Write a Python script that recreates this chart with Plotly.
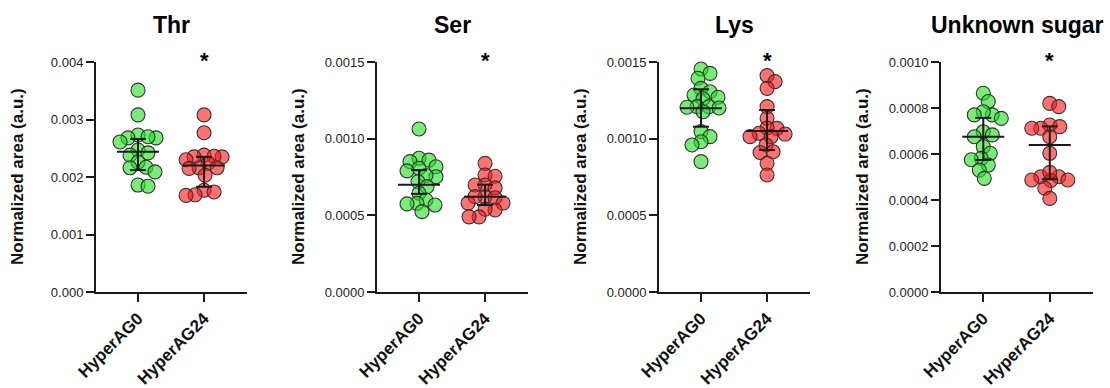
import numpy as np
import plotly.graph_objects as go

# ---------------- data ----------------
panels = ["Thr", "Ser", "Lys", "Unknown sugar"]
groups = ["HyperAG0", "HyperAG24"]

thr_ag0 = [0.00351, 0.00308, 0.00273, 0.00268, 0.00268, 0.00270, 0.00261, 0.00247,
           0.00242, 0.00238, 0.00226, 0.00217, 0.00216, 0.00209, 0.00186, 0.00184]
thr_ag24 = [0.00308, 0.00277, 0.00238, 0.00235, 0.00235, 0.00230, 0.00236, 0.00224,
            0.00216, 0.00216, 0.00215, 0.00203, 0.00177, 0.00174, 0.00169, 0.00168]
ser_ag0 = [0.001063, 0.000872, 0.000860, 0.000850, 0.000807, 0.000817, 0.000790, 0.000752,
           0.000760, 0.000720, 0.000687, 0.000644, 0.000600, 0.000578, 0.000575, 0.000567, 0.000524]
ser_ag24 = [0.000839, 0.000763, 0.000755, 0.000698, 0.000698, 0.000680, 0.000622, 0.000622,
            0.000615, 0.000580, 0.000580, 0.000535, 0.000540, 0.000490, 0.000490]
lys_ag0 = [0.001454, 0.001426, 0.001394, 0.001328, 0.001306, 0.001285, 0.001270, 0.001260,
           0.001209, 0.001209, 0.001200, 0.001176, 0.001205, 0.001046, 0.001013, 0.000980,
           0.000959, 0.000850]
lys_ag24 = [0.001411, 0.001372, 0.001328, 0.001209, 0.001133, 0.001067, 0.001070, 0.001035,
            0.001030, 0.001013, 0.001013, 0.000959, 0.000915, 0.000910, 0.000839, 0.000763]
sug_ag0 = [0.000864, 0.000828, 0.000770, 0.000784, 0.000770, 0.000755, 0.000697, 0.000683,
           0.000675, 0.000632, 0.000603, 0.000581, 0.000575, 0.000552, 0.000530, 0.000494]
sug_ag24 = [0.000820, 0.000806, 0.000726, 0.000719, 0.000712, 0.000712, 0.000675, 0.000603,
            0.000501, 0.000501, 0.000487, 0.000487, 0.000485, 0.000520, 0.000451, 0.000407]

# centre line and whisker ends for each group (HyperAG0, HyperAG24)
thr_center = [0.00244, 0.00220]
thr_low = [0.00212, 0.00183]
thr_high = [0.00266, 0.00235]
ser_center = [0.000700, 0.000622]
ser_low = [0.000640, 0.000567]
ser_high = [0.000795, 0.000700]
lys_center = [0.001198, 0.001050]
lys_low = [0.001078, 0.000926]
lys_high = [0.001322, 0.001187]
sug_center = [0.000675, 0.000639]
sug_low = [0.000574, 0.000490]
sug_high = [0.000757, 0.000720]

y_max = [0.004, 0.0015, 0.0015, 0.001]
y_dtick = [0.001, 0.0005, 0.0005, 0.0002]
y_format = [".3f", ".4f", ".4f", ".4f"]
signif = ["*", "*", "*", "*"]

values = [(thr_ag0, thr_ag24), (ser_ag0, ser_ag24), (lys_ag0, lys_ag24), (sug_ag0, sug_ag24)]
centers = [thr_center, ser_center, lys_center, sug_center]
lows = [thr_low, ser_low, lys_low, sug_low]
highs = [thr_high, ser_high, lys_high, sug_high]

# ---------------- layout geometry ----------------
W, H = 1110, 388
x_px = [(96, 247), (377, 528), (659, 810), (941, 1093)]
y_top, y_bot = 62, 292
x_range = [-0.636, 1.65]
plot_h = y_bot - y_top

fills = ["rgba(30,222,30,0.6)", "rgba(255,20,20,0.6)"]
line_col = "#1a1a1a"
FONT = "Arial, Liberation Sans, sans-serif"


def swarm(vals, ypx, xpx, D=9.5, maxoff=18):
    vals = np.asarray(vals, dtype=float)
    order = np.argsort(-vals)
    cands = [0.0]
    for k in range(1, maxoff + 1):
        cands += [float(k), float(-k)]
    placed = []
    offs = np.zeros(len(vals))
    for i in order:
        y = vals[i] * ypx
        best, bestc, bestd = None, 0.0, -1.0
        for c in cands:
            dmin = min((np.hypot(c - px, y - py) for px, py in placed), default=1e9)
            if dmin >= D:
                best = c
                break
            if dmin > bestd:
                bestd, bestc = dmin, c
        if best is None:
            best = bestc
        placed.append((best, y))
        offs[i] = best / xpx
    return offs


fig = go.Figure()
layout = dict(
    width=W, height=H, margin=dict(l=0, r=0, t=0, b=0, autoexpand=False),
    paper_bgcolor="white", plot_bgcolor="white", showlegend=False,
    font=dict(family=FONT, color="#222"),
)
annotations = []

for p in range(4):
    xs = "x" if p == 0 else f"x{p+1}"
    ys = "y" if p == 0 else f"y{p+1}"
    xk = "xaxis" if p == 0 else f"xaxis{p+1}"
    yk = "yaxis" if p == 0 else f"yaxis{p+1}"
    x0, x1 = x_px[p]
    xpx = (x1 - x0) / (x_range[1] - x_range[0])
    ypx = plot_h / y_max[p]

    for g in range(2):
        v = values[p][g]
        offs = swarm(v, ypx, xpx)
        fig.add_trace(go.Scatter(
            x=g + offs, y=v, mode="markers", xaxis=xs, yaxis=ys,
            marker=dict(size=14, color=fills[g], line=dict(color="#333", width=1.1)),
            hoverinfo="y", cliponaxis=False,
        ))
    # centre lines and whiskers
    lx, ly = [], []
    half_c = 21 / xpx
    half_cap = 8 / xpx
    for g in range(2):
        c, lo, hi = centers[p][g], lows[p][g], highs[p][g]
        lx += [g - half_c, g + half_c, None, g, g, None,
               g - half_cap, g + half_cap, None, g - half_cap, g + half_cap, None]
        ly += [c, c, None, lo, hi, None, lo, lo, None, hi, hi, None]
    fig.add_trace(go.Scatter(x=lx, y=ly, mode="lines", xaxis=xs, yaxis=ys,
                             line=dict(color=line_col, width=2), hoverinfo="skip",
                             cliponaxis=False))

    layout[xk] = dict(
        domain=[x0 / W, x1 / W], range=x_range, anchor=ys, automargin=False,
        tickvals=[0, 1], ticktext=[f"<b>{g}</b>" for g in groups],
        tickangle=-45, tickfont=dict(size=17, color="#111", family=FONT),
        showline=True, linecolor=line_col, linewidth=2,
        ticks="outside", ticklen=8, tickwidth=2, tickcolor=line_col,
        showgrid=False, zeroline=False, fixedrange=True,
    )
    layout[yk] = dict(
        domain=[1 - y_bot / H, 1 - y_top / H], range=[0, y_max[p]], anchor=xs,
        automargin=False,
        dtick=y_dtick[p], tick0=0, tickformat=y_format[p],
        tickfont=dict(size=13, color="#222", family=FONT),
        showline=True, linecolor=line_col, linewidth=2,
        ticks="outside", ticklen=8, tickwidth=2, tickcolor=line_col,
        showgrid=False, zeroline=False, fixedrange=True,
    )
    annotations.append(dict(
        text=f"<b>{panels[p]}</b>", xref="paper", yref="paper",
        x=(x0 + x1) / 2 / W, y=1 - 25 / H, xanchor="center", yanchor="middle",
        showarrow=False, font=dict(size=23, color="#000", family=FONT),
    ))
    annotations.append(dict(
        text=f"<b>{signif[p]}</b>", xref=xs, yref="paper",
        x=1, y=1 - 60 / H, xanchor="center", yanchor="middle",
        showarrow=False, font=dict(size=22, color="#000", family=FONT),
    ))
    annotations.append(dict(
        text="<b>Normalized area (a.u.)</b>", xref="paper", yref="paper",
        x=(x0 - 78) / W, y=1 - (y_top + y_bot) / 2 / H, xanchor="center", yanchor="middle",
        textangle=-90, showarrow=False, font=dict(size=17, color="#111", family=FONT),
    ))

layout["annotations"] = annotations
fig.update_layout(**layout)
fig.write_html("out.html")
